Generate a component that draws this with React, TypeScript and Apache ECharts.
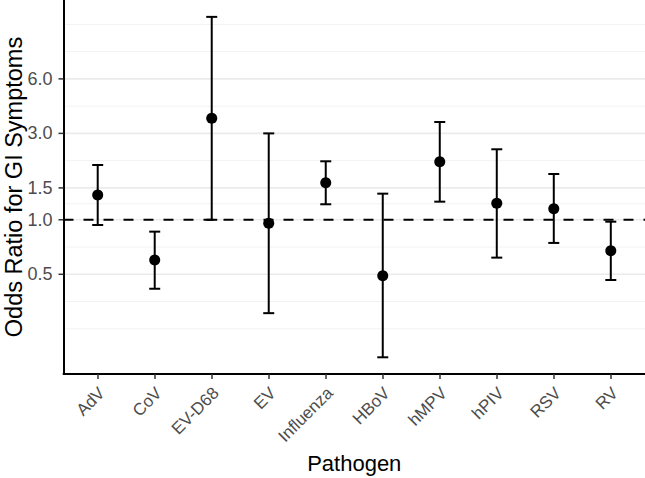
import React, { useEffect, useRef } from "react";
import * as echarts from "echarts";

const categories = ["AdV", "CoV", "EV-D68", "EV", "Influenza", "HBoV", "hMPV", "hPIV", "RSV", "RV"];
const oddsRatio = [1.37, 0.6, 3.64, 0.956, 1.6, 0.491, 2.09, 1.233, 1.152, 0.675];
const ciLower = [0.936, 0.416, 1.0, 0.305, 1.218, 0.174, 1.259, 0.618, 0.745, 0.465];
const ciUpper = [2.007, 0.86, 13.2, 3.0, 2.104, 1.394, 3.468, 2.451, 1.79, 0.976];

const yTickLabels = [0.5, 1.0, 1.5, 3.0, 6.0];
const majorGrid = [0.5, 1.0, 1.5, 3.0, 6.0];
const minorGrid = [0.25, 0.354, 0.707, 1.225, 2.12, 4.24, 8.49, 12];
const refLine = [1.0];

const FONT = "'Liberation Sans', Arial, Helvetica, sans-serif";

export default function App() {
  const ref = useRef<HTMLDivElement>(null);
  useEffect(() => {
    if (!ref.current) return;
    const chart = echarts.init(ref.current, null, { renderer: "svg" });
    const idx = categories.map((_, i) => i);

    const hLine = (color: string, width: number, dash?: number[]) =>
      (params: any, api: any) => {
        const cs = params.coordSys;
        const p = api.coord([0, api.value(1)]);
        return {
          type: "line",
          shape: { x1: cs.x, y1: p[1], x2: cs.x + cs.width, y2: p[1] },
          style: { stroke: color, lineWidth: width, lineDash: dash || null, fill: null },
          silent: true,
        };
      };

    chart.setOption({
      animation: false,
      backgroundColor: "#ffffff",
      grid: {
        left: 63.5,
        right: 0,
        top: 0,
        bottom: 104,
        containLabel: false,
        outerBoundsMode: "none",
      },
      xAxis: {
        type: "value",
        min: -0.6,
        max: 9.6,
        name: "Pathogen",
        nameLocation: "middle",
        nameGap: 76,
        nameTextStyle: { fontSize: 22, color: "#000", fontFamily: FONT },
        axisLine: { show: true, onZero: false, lineStyle: { color: "#000", width: 2 } },
        axisTick: { show: true, customValues: idx, length: 5, lineStyle: { color: "#333", width: 1.5 } },
        axisLabel: {
          show: true,
          customValues: idx,
          formatter: (v: number) => categories[Math.round(v)] ?? "",
          rotate: 45,
          align: "right",
          verticalAlign: "top",
          lineHeight: 12,
          margin: 12,
          fontSize: 17,
          color: "#4d4d4d",
          fontFamily: FONT,
        },
        splitLine: { show: false },
      },
      yAxis: {
        type: "log",
        logBase: 10,
        min: 0.1407,
        max: 16.36,
        name: "Odds Ratio for GI Symptoms",
        nameLocation: "middle",
        nameGap: 38,
        nameRotate: 90,
        nameTextStyle: { fontSize: 23.5, color: "#000", fontFamily: FONT },
        axisLine: { show: true, onZero: false, lineStyle: { color: "#000", width: 2 } },
        axisTick: { show: false },
        axisLabel: { show: false },
        splitLine: { show: false },
      },
      series: [
        {
          type: "custom",
          name: "minorGrid",
          data: minorGrid.map((v) => [0, v]),
          renderItem: hLine("#f2f2f2", 1),
          z: 0,
          silent: true,
          clip: false,
        },
        {
          type: "custom",
          name: "majorGrid",
          data: majorGrid.map((v) => [0, v]),
          renderItem: hLine("#ebebeb", 1.6),
          z: 0,
          silent: true,
          clip: false,
        },
        {
          type: "custom",
          name: "yTicks",
          data: yTickLabels.map((v) => [0, v]),
          renderItem: (params: any, api: any) => {
            const cs = params.coordSys;
            const v = api.value(1);
            const p = api.coord([0, v]);
            return {
              type: "group",
              children: [
                {
                  type: "line",
                  shape: { x1: cs.x - 5, y1: p[1], x2: cs.x, y2: p[1] },
                  style: { stroke: "#333", lineWidth: 1.5 },
                },
                {
                  type: "text",
                  x: cs.x - 11,
                  y: p[1],
                  style: {
                    text: v.toFixed(1),
                    align: "right",
                    verticalAlign: "middle",
                    fontSize: 18,
                    fill: "#4d4d4d",
                    fontFamily: FONT,
                  },
                },
              ],
            };
          },
          z: 1,
          silent: true,
          clip: false,
        },
        {
          type: "custom",
          name: "reference",
          data: refLine.map((v) => [0, v]),
          renderItem: hLine("#000", 2, [10, 10]),
          z: 2,
          silent: true,
          clip: false,
        },
        {
          type: "custom",
          name: "CI",
          data: idx.map((i) => [i, ciLower[i], ciUpper[i]]),
          encode: { x: 0, y: [1, 2] },
          renderItem: (params: any, api: any) => {
            const x = api.value(0);
            const pLo = api.coord([x, api.value(1)]);
            const pHi = api.coord([x, api.value(2)]);
            const hw = 5.5;
            const st = { stroke: "#000", lineWidth: 2 };
            return {
              type: "group",
              children: [
                { type: "line", shape: { x1: pLo[0], y1: pLo[1], x2: pHi[0], y2: pHi[1] }, style: st },
                { type: "line", shape: { x1: pLo[0] - hw, y1: pLo[1], x2: pLo[0] + hw, y2: pLo[1] }, style: st },
                { type: "line", shape: { x1: pHi[0] - hw, y1: pHi[1], x2: pHi[0] + hw, y2: pHi[1] }, style: st },
              ],
            };
          },
          z: 3,
          silent: true,
          clip: false,
        },
        {
          type: "scatter",
          name: "OR",
          data: idx.map((i) => [i, oddsRatio[i]]),
          symbol: "circle",
          symbolSize: 11,
          itemStyle: { color: "#000", opacity: 1 },
          z: 4,
          silent: true,
        },
      ],
    });
    return () => chart.dispose();
  }, []);
  return (
    <div
      ref={ref}
      style={{ position: "absolute", left: 0, top: 0, width: 645, height: 478 }}
    />
  );
}
